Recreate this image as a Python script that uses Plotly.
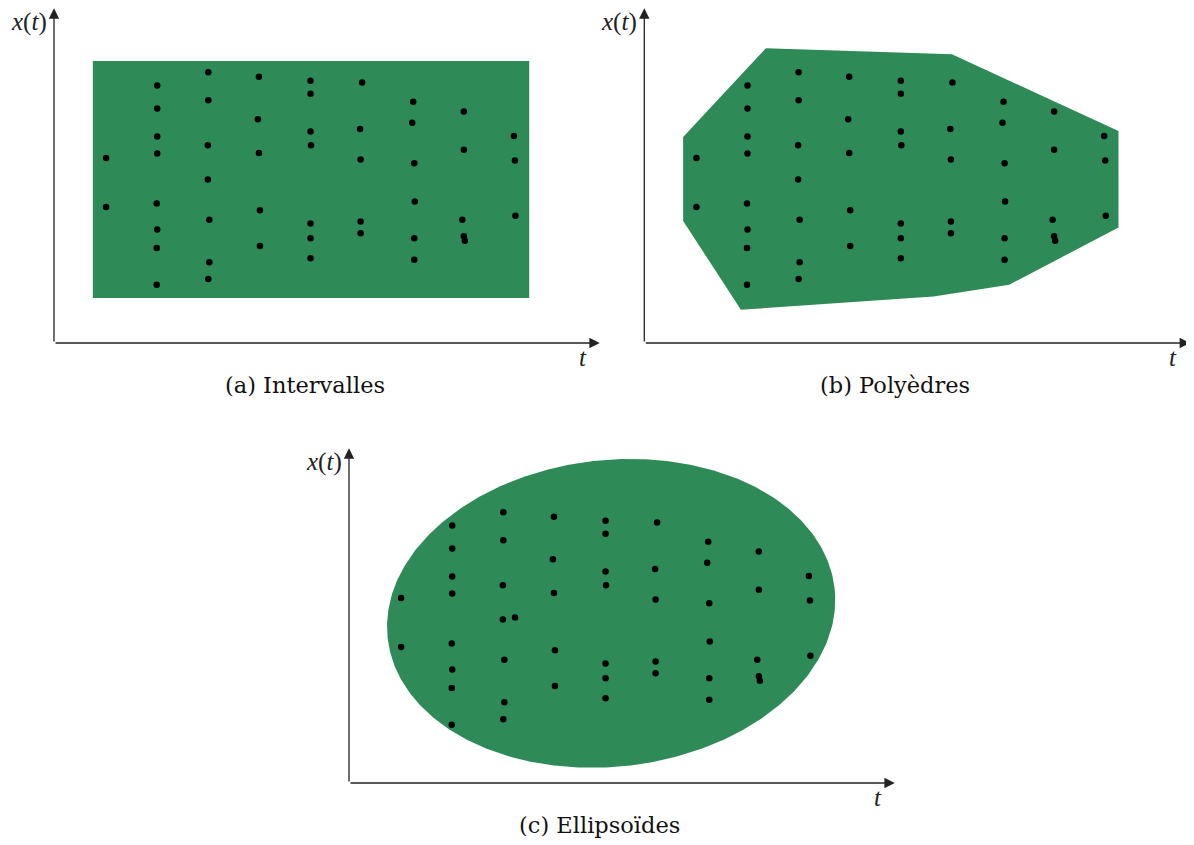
import numpy as np
import plotly.graph_objects as go

# ---------------- data ----------------
# sample points (t, x(t)) shared by the three panels
pts_t = [1.02, 1.02,
         2.02, 2.02, 2.02, 2.02, 2.01, 2.02, 2.01, 2.01,
         3.02, 3.02, 3.01, 3.01, 3.04, 3.04, 3.02,
         4.01, 3.99, 4.01, 4.03, 4.03,
         5.02, 5.02, 5.02, 5.03, 5.02, 5.02, 5.02,
         6.03, 5.99, 6.00, 6.00, 6.00,
         7.03, 7.01, 7.05, 7.06, 7.05, 7.05,
         8.02, 8.02, 7.99, 8.02, 8.04,
         9.00, 9.02, 9.03]
pts_x = [3.62, 2.66,
         5.04, 4.59, 4.04, 3.71, 2.73, 2.22, 1.86, 1.14,
         5.30, 4.75, 3.87, 3.20, 2.41, 1.58, 1.25,
         5.21, 4.38, 3.72, 2.60, 1.90,
         5.13, 4.88, 4.14, 3.87, 2.34, 2.05, 1.66,
         5.10, 4.19, 3.59, 2.38, 2.15,
         4.72, 4.31, 3.52, 2.77, 2.05, 1.63,
         4.53, 3.78, 2.41, 2.09, 2.00,
         4.05, 3.57, 2.49]
# one extra sample visible only in panel (c)
extra_t = [3.25]
extra_x = [3.24]

# (a) interval box
box_t = [0.76, 9.30]
box_x = [0.88, 5.52]

# (b) polyhedron vertices
poly_t = [0.76, 2.38, 6.02, 9.28, 9.28, 7.14, 5.66, 1.89, 0.76]
poly_x = [4.03, 5.77, 5.65, 4.15, 2.26, 1.14, 0.91, 0.65, 2.39]

# (c) ellipsoid: centre, semi-axes, rotation (deg)
ell_center = (5.13, 3.32)
ell_axes = (4.40, 3.00)
ell_angle = 6.4

captions = ["(a) Intervalles", "(b) Polyèdres", "(c) Ellipsoïdes"]
ylab = "<i>x</i>(<i>t</i>)"
xlab = "<i>t</i>"

# ---------------- layout helpers ----------------
W, H = 1194, 845
PAGE_OFF = 8           # browser body margin
UNIT = 51.1            # pixels per data unit
TMAX, XMAX = 10.68, 6.55
GREEN = "#2e8b57"
origins = [(54, 343), (644.3, 343), (349, 783)]   # pixel position of axis origins

fig = go.Figure()

def dom(o):
    ox, oy = o[0] - PAGE_OFF, o[1] - PAGE_OFF
    xd = [ox / W, (ox + TMAX * UNIT) / W]
    yd = [1 - oy / H, 1 - (oy - XMAX * UNIT) / H]
    return xd, yd

# region shapes
rt = [box_t[0], box_t[1], box_t[1], box_t[0], box_t[0]]
rx = [box_x[0], box_x[0], box_x[1], box_x[1], box_x[0]]
phi = np.linspace(0, 2 * np.pi, 400)
th = np.deg2rad(ell_angle)
a, b = ell_axes
et = ell_center[0] + a * np.cos(phi) * np.cos(th) - b * np.sin(phi) * np.sin(th)
ex = ell_center[1] + a * np.cos(phi) * np.sin(th) + b * np.sin(phi) * np.cos(th)
regions = [(rt, rx), (poly_t + [poly_t[0]], poly_x + [poly_x[0]]), (list(et), list(ex))]

annotations = []
for i in range(3):
    sfx = "" if i == 0 else str(i + 1)
    xa, ya = "x" + sfx, "y" + sfx
    fig.add_trace(go.Scatter(x=regions[i][0], y=regions[i][1], fill="toself",
                             fillcolor=GREEN, mode="lines", line=dict(width=0, color=GREEN),
                             xaxis=xa, yaxis=ya, hoverinfo="skip", showlegend=False))
    tt = pts_t + (extra_t if i == 2 else [])
    xx = pts_x + (extra_x if i == 2 else [])
    fig.add_trace(go.Scatter(x=tt, y=xx, mode="markers",
                             marker=dict(color="black", size=6.5),
                             xaxis=xa, yaxis=ya, showlegend=False))
    xd, yd = dom(origins[i])
    fig.layout["xaxis" + sfx] = dict(domain=xd, range=[0, TMAX], visible=False,
                                     anchor=ya, fixedrange=True)
    fig.layout["yaxis" + sfx] = dict(domain=yd, range=[0, XMAX], visible=False,
                                     anchor=xa, fixedrange=True)
    # axis arrows
    for (hx, hy) in [(TMAX, 0), (0, XMAX)]:
        annotations.append(dict(x=hx, y=hy, ax=0, ay=0, xref=xa, yref=ya,
                                axref=xa, ayref=ya, showarrow=True, text="",
                                arrowhead=2, arrowsize=1.6, arrowwidth=1.3,
                                arrowcolor="#222222", standoff=0, startstandoff=0))
    # labels
    annotations.append(dict(x=0, y=6.28, xref=xa, yref=ya, text=ylab, showarrow=False,
                            xanchor="right", yanchor="middle", xshift=-5,
                            font=dict(family="Liberation Serif", size=25, color="#222")))
    annotations.append(dict(x=10.35, y=0, xref=xa, yref=ya, text=xlab, showarrow=False,
                            xanchor="center", yanchor="middle", yshift=-14,
                            font=dict(family="Liberation Serif", size=25, color="#222")))
    annotations.append(dict(x=0.5, y=-0.125, xref=xa + " domain", yref=ya + " domain",
                            text=captions[i], showarrow=False, xshift=-22,
                            xanchor="center", yanchor="middle",
                            font=dict(family="DejaVu Serif", size=22.5, color="#111")))

fig.update_layout(width=W, height=H, margin=dict(l=0, r=0, t=0, b=0),
                  plot_bgcolor="white", paper_bgcolor="white",
                  annotations=annotations)
fig.write_html("out.html")
